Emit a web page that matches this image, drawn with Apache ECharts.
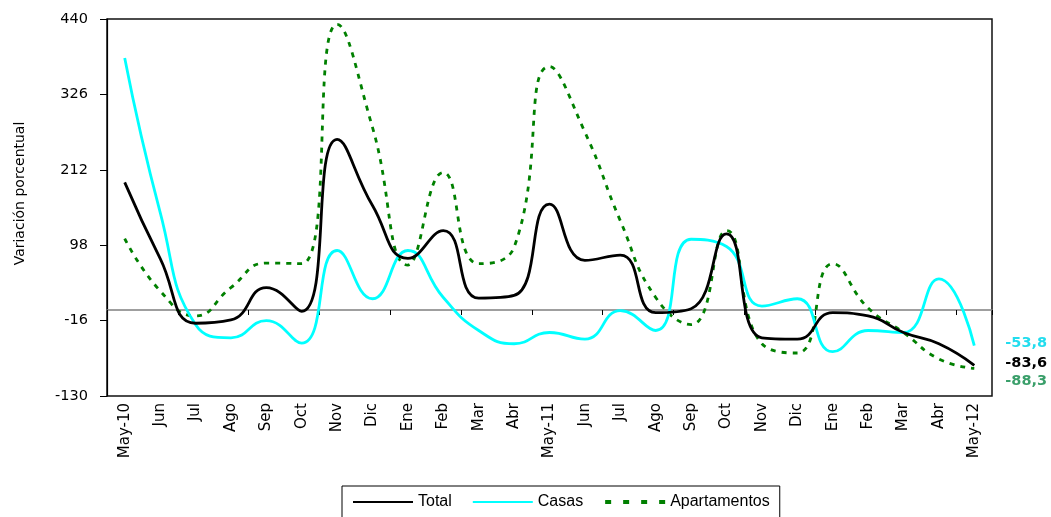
<!DOCTYPE html>
<html>
<head>
<meta charset="utf-8">
<script src="https://cdn.jsdelivr.net/npm/echarts@6/dist/echarts.min.js"></script>
<style>html,body{margin:0;padding:0;background:#fff}#c{width:1051px;height:517px}</style>
</head>
<body>
<div id="c"></div>
<script>
var categories = ['May-10','Jun','Jul','Ago','Sep','Oct','Nov','Dic','Ene','Feb','Mar','Abr','May-11','Jun','Jul','Ago','Sep','Oct','Nov','Dic','Ene','Feb','Mar','Abr','May-12'];
var total = [193, 78, -20, -15, 34, -2, 258, 158, 78, 120, 18, 22, 160, 75, 83, -4, 2, 115, -42, -44, -4, -9, -34, -51, -83.6];
var casas = [381, 148, -22, -42, -16, -50, 90, 17, 90, 19, -31, -51, -34, -44, -1, -31, 107, 96, 6, 17, -63, -31, -34, 47, -53.8];
var apartamentos = [108, 29, -9, 34, 71, 70, 432, 276, 68, 208, 70, 95, 368, 269, 135, 19, -22, 120, -51, -65, 70, 3, -34, -74, -88.3];
var yTicks = [-130, -16, 98, 212, 326, 440];

var WIDE = '"DejaVu Sans", Verdana, sans-serif';
var ARIAL = 'Arial, "Liberation Sans", sans-serif';
function fmt(p){ return String(p.value.toFixed(1)).replace('.', ','); }

var chart = echarts.init(document.getElementById('c'), null, {renderer:'canvas'});
chart.setOption({
  animation: false,
  backgroundColor: '#fff',
  textStyle: {fontFamily: WIDE},
  grid: {left: 107, right: 59, top: 19, bottom: 121, show: true, borderColor: '#111', borderWidth: 1.5},
  legend: {
    top: 486, left: 342,
    data: ['Total', 'Casas', {name: 'Apartamentos', lineStyle: {type: [6, 12], width: 4}}],
    borderColor: '#000', borderWidth: 1, padding: [8, 10, 8, 10],
    itemWidth: 60, itemHeight: 14, itemGap: 20,
    itemStyle: {opacity: 0},
    textStyle: {fontSize: 16, color: '#000', fontFamily: ARIAL}
  },
  xAxis: [{
    type: 'category', data: categories, position: 'bottom',
    axisLine: {show: false, onZero: false},
    axisTick: {show: false},
    axisLabel: {rotate: 90, fontSize: 15, color: '#000', margin: 7, interval: 0, fontFamily: WIDE},
    splitLine: {show: false}
  }, {
    type: 'category', data: categories, position: 'bottom',
    axisLine: {show: true, onZero: true, lineStyle: {color: '#808080', width: 1.6}},
    axisTick: {show: true, length: 5, lineStyle: {color: '#000', width: 1}},
    axisLabel: {show: false},
    splitLine: {show: false}
  }],
  yAxis: {
    type: 'value', min: yTicks[0], max: yTicks[yTicks.length-1], interval: 114,
    name: 'Variación porcentual', nameLocation: 'middle', nameGap: 80,
    nameTextStyle: {fontSize: 14, color: '#000', fontFamily: WIDE, padding: [0, 0, 0, 28]},
    axisLine: {show: true, lineStyle: {color: '#000', width: 1.2}},
    axisTick: {show: true, length: 7, lineStyle: {color: '#000'}},
    axisLabel: {fontSize: 14.5, color: '#000', margin: 19, fontFamily: WIDE},
    splitLine: {show: false}
  },
  series: [{
    name: 'Total', type: 'line', data: total, smooth: 0.5, symbol: 'none',
    lineStyle: {color: '#000', width: 2.8}, itemStyle: {color: '#000'},
    endLabel: {show: true, formatter: fmt, distance: 31, offset: [0, -2], color: '#000', fontSize: 14.5, fontWeight: 'bold', fontFamily: WIDE},
    z: 4
  }, {
    name: 'Casas', type: 'line', data: casas, smooth: 0.5, symbol: 'none',
    lineStyle: {color: '#00FFFF', width: 2.8}, itemStyle: {color: '#00FFFF'},
    endLabel: {show: true, formatter: fmt, distance: 31, offset: [0, -2], color: '#22DDEE', fontSize: 14.5, fontWeight: 'bold', fontFamily: WIDE},
    z: 3
  }, {
    name: 'Apartamentos', type: 'line', data: apartamentos, smooth: 0.5, symbol: 'none',
    lineStyle: {color: '#008000', width: 2.8, type: [5, 6]}, itemStyle: {color: '#008000'},
    endLabel: {show: true, formatter: fmt, distance: 31, offset: [0, 13], color: '#3A9F6A', fontSize: 14.5, fontWeight: 'bold', fontFamily: WIDE},
    z: 2
  }]
});
</script>
</body>
</html>
